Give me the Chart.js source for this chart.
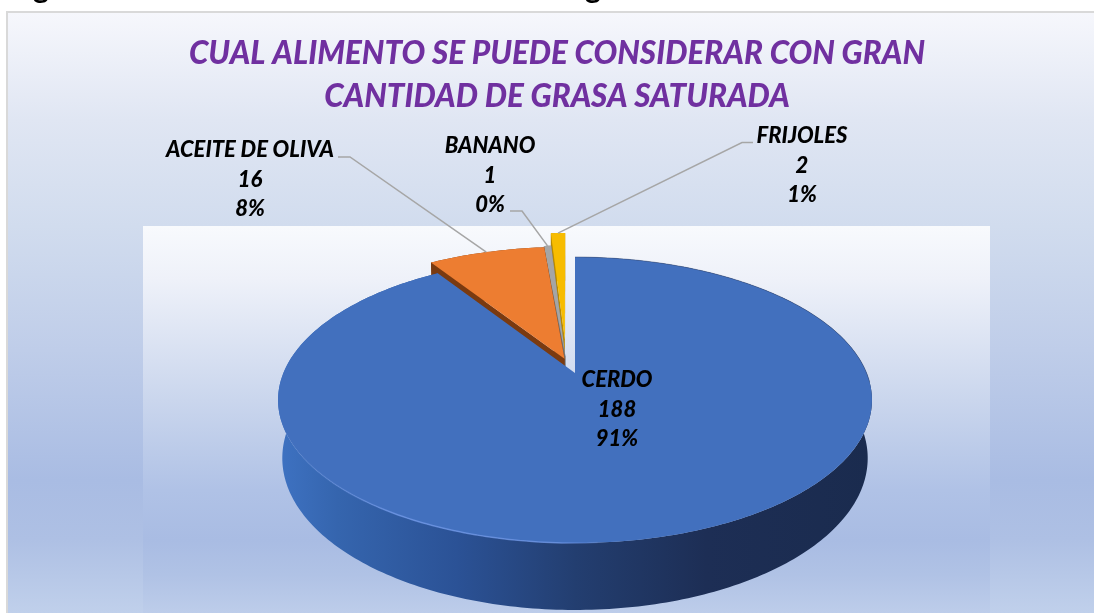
<!DOCTYPE html>
<html>
<head>
<meta charset="utf-8">
<style>
  html, body { margin: 0; padding: 0; background: #fff; overflow: hidden; }
  canvas { display: block; }
</style>
<script src="https://cdn.jsdelivr.net/npm/chart.js@4"></script>
</head>
<body>
<canvas id="graph" width="1094" height="613"></canvas>
<script>
// Data
var categories = ['CERDO', 'ACEITE DE OLIVA', 'BANANO', 'FRIJOLES'];
var values = [188, 16, 1, 2];
var percents = ['91%', '8%', '0%', '1%'];
var titleLines = ['CUAL ALIMENTO SE PUEDE CONSIDERAR CON GRAN', 'CANTIDAD DE GRASA SATURADA'];

// Slice styles
var faceColors = ['#4270BE', '#ED7D31', '#A5A5A5', '#F7BC00'];
var wallColors = ['#2A4F8F', '#7A3A10', '#6E6E6E', '#B98A00'];
var sliceOffsets = [0, 28, 30, 64];
var sliceNudgeX = [0, 0, -7, -8];
var drawOrder = [3, 2, 1, 0];

var FONT = '"Lato", "Open Sans", sans-serif';

// Tilted view of the pie plane: homography from the unit circle to the screen
var view = { x: 575, y: 373, a: 291.6, b: 137.9, g: 0.189, depth: 57.6, shrink: 0.014 };

function project(u, v, z) {
    var w = 1 - view.g * v + view.shrink * z;
    return { x: view.x + view.a * u / w, y: view.y + (view.b * v + view.depth * z) / w };
}

// Geometry of one slice, taken from the arc element the library computed
function sliceGeometry(arc, i) {
    var p = arc.getProps(['startAngle', 'endAngle', 'outerRadius'], true);
    var mid = (p.startAngle + p.endAngle) / 2;
    var off = arc.options.offset / p.outerRadius;
    return {
        start: p.startAngle,
        end: p.endAngle,
        mid: mid,
        cu: off * Math.cos(mid),
        cv: off * Math.sin(mid),
        nudge: sliceNudgeX[i]
    };
}

function slicePoint(s, angle, radius, z) {
    var q = project(s.cu + radius * Math.cos(angle), s.cv + radius * Math.sin(angle), z);
    q.x += s.nudge;
    return q;
}

function arcPath(ctx, s, z, reverse, move) {
    var steps = Math.max(6, Math.ceil((s.end - s.start) * 60));
    for (var k = 0; k <= steps; k++) {
        var t = reverse ? 1 - k / steps : k / steps;
        var q = slicePoint(s, s.start + (s.end - s.start) * t, 1, z);
        if (k === 0 && move) ctx.moveTo(q.x, q.y); else ctx.lineTo(q.x, q.y);
    }
}

function drawSlice(ctx, s, i, faceColor) {
    // outer wall
    var wallFill = wallColors[i];
    if (i === 0) {
        wallFill = ctx.createLinearGradient(278, 0, 873, 0);
        wallFill.addColorStop(0, '#3E72C2');
        wallFill.addColorStop(0.1, '#3565AE');
        wallFill.addColorStop(0.3, '#2B5296');
        wallFill.addColorStop(0.5, '#233E70');
        wallFill.addColorStop(0.72, '#1D2E55');
        wallFill.addColorStop(1, '#1A2B4E');
    }
    ctx.fillStyle = wallFill;
    ctx.beginPath();
    arcPath(ctx, s, 0, false, true);
    arcPath(ctx, s, 1, true, false);
    ctx.closePath();
    ctx.fill();

    // radial walls, the big slice never shows them
    if (i !== 0) {
        [s.start, s.end].forEach(function(angle) {
            var a0 = slicePoint(s, angle, 0, 0), a1 = slicePoint(s, angle, 1, 0);
            var b1 = slicePoint(s, angle, 1, 1), b0 = slicePoint(s, angle, 0, 1);
            ctx.beginPath();
            ctx.moveTo(a0.x, a0.y);
            ctx.lineTo(a1.x, a1.y);
            ctx.lineTo(b1.x, b1.y);
            ctx.lineTo(b0.x, b0.y);
            ctx.closePath();
            ctx.fill();
        });
    }

    // top face
    var c = slicePoint(s, 0, 0, 0);
    ctx.fillStyle = faceColor;
    ctx.beginPath();
    ctx.moveTo(c.x, c.y);
    arcPath(ctx, s, 0, false, false);
    ctx.closePath();
    ctx.fill();
}

function strokeRim(ctx, s, from, to, style, width) {
    var part = { start: from, end: to, cu: s.cu, cv: s.cv, nudge: s.nudge };
    ctx.strokeStyle = style;
    ctx.lineWidth = width;
    ctx.beginPath();
    arcPath(ctx, part, 0, false, true);
    ctx.stroke();
}

function drawPolyline(ctx, pts) {
    ctx.strokeStyle = '#A6A6A6';
    ctx.lineWidth = 1.5;
    ctx.beginPath();
    pts.forEach(function(p, k) {
        if (k === 0) ctx.moveTo(p.x, p.y); else ctx.lineTo(p.x, p.y);
    });
    ctx.stroke();
}

function verticalBand(ctx, x, y, w, h, stops) {
    var g = ctx.createLinearGradient(0, y, 0, y + h);
    stops.forEach(function(st) { g.addColorStop((st[0] - y) / h, st[1]); });
    ctx.fillStyle = g;
    ctx.fillRect(x, y, w, h);
}

// Label placement: text centre, first baseline, and where the leader line starts
var labelPlaces = [
    { x: 617, y: 387 },
    { x: 250, y: 157, leader: [{ x: 338, y: 157 }, { x: 350, y: 157 }] },
    { x: 490, y: 153, leader: [{ x: 510, y: 211 }, { x: 522, y: 211 }] },
    { x: 802, y: 143, leader: [{ x: 753, y: 142.5 }, { x: 742, y: 142.5 }] }
];

var panelPlugin = {
    id: 'panel',
    beforeDraw: function(chart) {
        var ctx = chart.ctx;
        ctx.save();
        ctx.fillStyle = '#fff';
        ctx.fillRect(0, 0, 1094, 613);
        ctx.fillStyle = '#000';
        ctx.font = 'bold 30px ' + FONT;
        ctx.textAlign = 'center';
        ctx.fillText('g', 41, -2);
        ctx.fillText('g', 593, -2);
        ctx.fillStyle = '#D9D9D9';
        ctx.fillRect(6, 11, 1088, 602);
        verticalBand(ctx, 8, 13, 1086, 600, [
            [13, '#F6F7FC'], [120, '#E0E6F3'], [226, '#D1DCEE'], [350, '#BFCDE9'],
            [480, '#A9BCE3'], [540, '#AEC0E4'], [613, '#C0D0EB']
        ]);
        verticalBand(ctx, 143, 226, 847, 387, [
            [226, '#F8FAFD'], [280, '#EEF1F9'], [400, '#CAD6ED'], [490, '#B0C2E6'],
            [540, '#A9BCE3'], [575, '#B0C2E5'], [613, '#BDCDEA']
        ]);
        ctx.restore();
    }
};

var pie3dPlugin = {
    id: 'pie3d',
    beforeDatasetDraw: function(chart, args) {
        var ctx = chart.ctx;
        var arcs = args.meta.data;
        var shapes = arcs.map(sliceGeometry);

        ctx.save();
        drawOrder.forEach(function(i) {
            drawSlice(ctx, shapes[i], i, arcs[i].options.backgroundColor);
        });

        // light rim on the front left, dark edge along the back right
        var hi = ctx.createLinearGradient(285, 0, 610, 0);
        hi.addColorStop(0, 'rgba(110,150,230,0)');
        hi.addColorStop(0.35, 'rgba(110,150,230,0.8)');
        hi.addColorStop(0.85, 'rgba(110,150,230,0.7)');
        hi.addColorStop(1, 'rgba(110,150,230,0)');
        strokeRim(ctx, shapes[0], Math.PI * 0.48, Math.PI * 0.98, hi, 1.5);
        strokeRim(ctx, shapes[0], -Math.PI * 0.5, Math.PI * 0.02, 'rgba(50,70,110,0.45)', 1);

        // leader lines end on the middle of the slice edge
        [1, 2, 3].forEach(function(i) {
            var end = slicePoint(shapes[i], shapes[i].mid, 1, 0);
            drawPolyline(ctx, labelPlaces[i].leader.concat([end]));
        });

        // data labels
        ctx.fillStyle = '#000';
        ctx.font = 'italic 900 22px ' + FONT;
        ctx.textAlign = 'center';
        categories.forEach(function(name, i) {
            var place = labelPlaces[i];
            ctx.fillText(name, place.x, place.y);
            ctx.fillText(String(values[i]), place.x, place.y + 29.5);
            ctx.fillText(percents[i], place.x, place.y + 59);
        });
        ctx.restore();
        return false;
    }
};

document.addEventListener('DOMContentLoaded', function() {
    new Chart(document.getElementById('graph').getContext('2d'), {
        type: 'pie',
        data: {
            labels: categories,
            datasets: [{
                data: values,
                backgroundColor: faceColors,
                offset: sliceOffsets,
                borderWidth: 0
            }]
        },
        options: {
            responsive: false,
            animation: false,
            radius: 250,
            layout: { padding: { left: 20 } },
            plugins: {
                legend: { display: false },
                tooltip: { enabled: false },
                title: {
                    display: true,
                    text: titleLines,
                    color: '#7030A0',
                    font: { family: FONT, size: 31.4, style: 'italic', weight: '900', lineHeight: 1.37 },
                    padding: { top: 32, bottom: 0 }
                }
            }
        },
        plugins: [panelPlugin, pie3dPlugin]
    });
});
</script>
</body>
</html>
